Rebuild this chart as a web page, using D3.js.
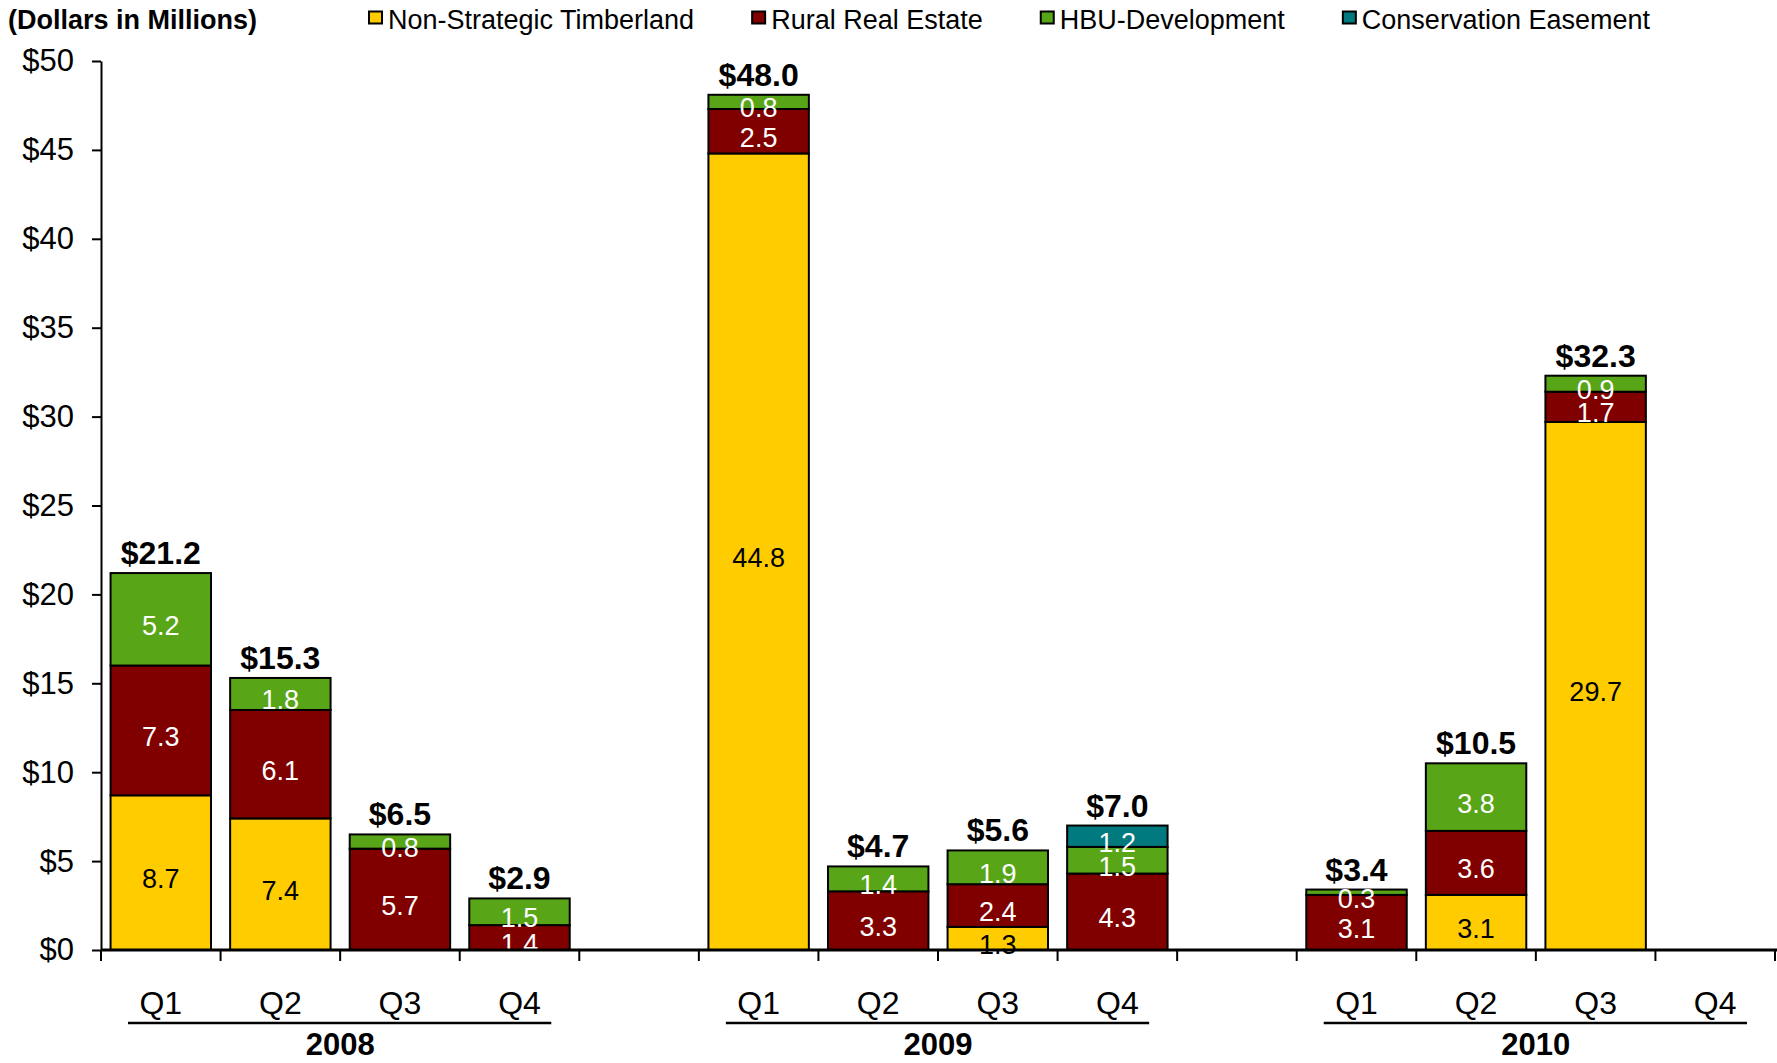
<!DOCTYPE html>
<html>
<head>
<meta charset="utf-8">
<script src="https://cdn.jsdelivr.net/npm/d3@7"></script>
<style>
  body { margin: 0; background: #fff; }
  svg { display: block; font-family: "Liberation Sans", Arial, sans-serif; }
</style>
</head>
<body>
<svg id="chart"></svg>
<script>
// data (dollars in millions)
var years = ["2008", "2009", "2010"];
var quarters = ["Q1", "Q2", "Q3", "Q4"];
var seriesNames = ["Non-Strategic Timberland", "Rural Real Estate", "HBU-Development", "Conservation Easement"];
var seriesColors = ["#FFCC00", "#800000", "#58A618", "#007A7E"];
var labelColors = ["#000", "#fff", "#fff", "#fff"];

// one entry per quarter, 2008 Q1 .. 2010 Q4
var timberland = [8.7, 7.4, 0, 0,   44.8, 0, 1.3, 0,   0, 3.1, 29.7, 0];
var rural      = [7.3, 6.1, 5.7, 1.4, 2.5, 3.3, 2.4, 4.3, 3.1, 3.6, 1.7, 0];
var hbu        = [5.2, 1.8, 0.8, 1.5, 0.8, 1.4, 1.9, 1.5, 0.3, 3.8, 0.9, 0];
var easement   = [0, 0, 0, 0,       0, 0, 0, 1.2,     0, 0, 0, 0];
var totals = ["$21.2", "$15.3", "$6.5", "$2.9", "$48.0", "$4.7", "$5.6", "$7.0", "$3.4", "$10.5", "$32.3", ""];
var yTicks = [0, 5, 10, 15, 20, 25, 30, 35, 40, 45, 50];

var width = 1777, height = 1063;
var svg = d3.select("#chart").attr("width", width).attr("height", height);

// slots: 4 quarters per year, plus an empty slot between years
var slots = [];
years.forEach(function(yr, i) {
  quarters.forEach(function(q) { slots.push(yr + "-" + q); });
  if (i < years.length - 1) slots.push(yr + "-gap");
});

var rows = [];
years.forEach(function(yr, i) {
  quarters.forEach(function(q, j) {
    var k = i * 4 + j;
    rows.push({
      key: yr + "-" + q,
      s0: timberland[k], s1: rural[k], s2: hbu[k], s3: easement[k],
      total: totals[k]
    });
  });
});

var x = d3.scaleBand().domain(slots).range([101, 1775]).padding(0);
var y = d3.scaleLinear().domain([0, 50]).range([950, 61]);
var barW = x.bandwidth() * 0.84;

var stack = d3.stack().keys(["s0", "s1", "s2", "s3"]);
var layers = stack(rows);

// bars
var layerG = svg.append("g").selectAll("g")
  .data(layers)
  .join("g")
    .attr("fill", function(d, i) { return seriesColors[i]; });

layerG.selectAll("rect")
  .data(function(d) { return d.filter(function(p) { return p[1] - p[0] > 0; }); })
  .join("rect")
    .attr("x", function(d) { return x(d.data.key) + (x.bandwidth() - barW) / 2; })
    .attr("y", function(d) { return y(d[1]); })
    .attr("width", barW)
    .attr("height", function(d) { return y(d[0]) - y(d[1]); })
    .attr("stroke", "#000")
    .attr("stroke-width", 2);

// segment labels
layers.forEach(function(layer, i) {
  svg.append("g").selectAll("text")
    .data(layer.filter(function(p) { return p[1] - p[0] > 0; }))
    .join("text")
      .attr("x", function(d) { return x(d.data.key) + x.bandwidth() / 2; })
      .attr("y", function(d) { return (y(d[0]) + y(d[1])) / 2 + 6; })
      .attr("dy", "0.35em")
      .attr("text-anchor", "middle")
      .attr("font-size", 27)
      .attr("fill", labelColors[i])
      .text(function(d) { return (d[1] - d[0]).toFixed(1); });
});

// totals above bars
svg.append("g").selectAll("text")
  .data(layers[layers.length - 1].filter(function(d) { return d.data.total; }))
  .join("text")
    .attr("x", function(d) { return x(d.data.key) + x.bandwidth() / 2; })
    .attr("y", function(d) { return y(d[1]) - 9; })
    .attr("text-anchor", "middle")
    .attr("font-size", 32)
    .attr("font-weight", "bold")
    .text(function(d) { return d.data.total; });

// y axis
var yAxis = svg.append("g")
  .attr("transform", "translate(" + x.range()[0] + ",0)")
  .call(d3.axisLeft(y).tickValues(yTicks).tickFormat(function(d) { return "$" + d; })
    .tickSize(9).tickSizeOuter(0).tickPadding(18));
yAxis.select(".domain").attr("stroke-width", 2);
yAxis.selectAll(".tick line").attr("stroke-width", 2);
yAxis.selectAll("text").attr("font-size", 31).attr("font-family", "Liberation Sans, Arial, sans-serif").attr("fill", "#000");

// x axis: baseline and ticks on slot boundaries
var xAxis = svg.append("g");
xAxis.append("line")
  .attr("x1", x.range()[0]).attr("x2", width)
  .attr("y1", y(0)).attr("y2", y(0))
  .attr("stroke", "#000").attr("stroke-width", 3);
var bounds = slots.map(function(s) { return x(s); }).concat([x.range()[1]]);
xAxis.selectAll(".xt")
  .data(bounds)
  .join("line")
    .attr("class", "xt")
    .attr("x1", function(d) { return d; }).attr("x2", function(d) { return d; })
    .attr("y1", y(0)).attr("y2", y(0) + 11)
    .attr("stroke", "#000").attr("stroke-width", 2);

xAxis.selectAll(".ql")
  .data(rows)
  .join("text")
    .attr("class", "ql")
    .attr("x", function(d) { return x(d.key) + x.bandwidth() / 2; })
    .attr("y", 1003)
    .attr("dy", "0.35em")
    .attr("text-anchor", "middle")
    .attr("font-size", 32)
    .text(function(d) { return d.key.split("-")[1]; });

// year groups
years.forEach(function(yr) {
  var x0 = x(yr + "-Q1"), x1 = x(yr + "-Q4") + x.bandwidth();
  xAxis.append("line")
    .attr("x1", x0 + 27).attr("x2", x1 - 28)
    .attr("y1", 1023).attr("y2", 1023)
    .attr("stroke", "#000").attr("stroke-width", 2.5);
  xAxis.append("text")
    .attr("x", (x0 + x1) / 2)
    .attr("y", 1044)
    .attr("dy", "0.35em")
    .attr("text-anchor", "middle")
    .attr("font-size", 31)
    .attr("font-weight", "bold")
    .text(yr);
});

// header + legend
svg.append("text")
  .attr("x", 8).attr("y", 29)
  .attr("font-size", 27).attr("font-weight", "bold")
  .text("(Dollars in Millions)");

var legend = svg.append("g");
var lx = 369;
seriesNames.forEach(function(name, i) {
  legend.append("rect")
    .attr("x", lx).attr("y", 11.5)
    .attr("width", 13).attr("height", 12)
    .attr("fill", seriesColors[i])
    .attr("stroke", "#000").attr("stroke-width", 2);
  var t = legend.append("text")
    .attr("x", lx + 19).attr("y", 29)
    .attr("font-size", 27)
    .text(name);
  lx += 19 + t.node().getComputedTextLength() + 58;
});
</script>
</body>
</html>
